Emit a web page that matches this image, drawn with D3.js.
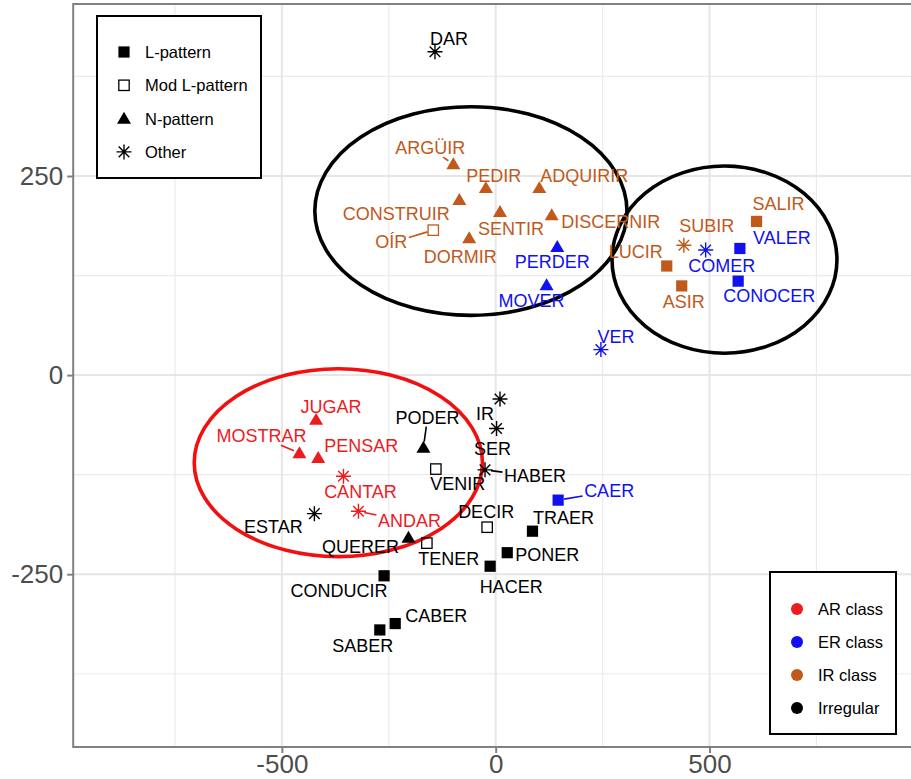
<!DOCTYPE html>
<html>
<head>
<meta charset="utf-8">
<script src="https://cdn.jsdelivr.net/npm/d3@7"></script>
<style>
  html, body { margin: 0; padding: 0; background: #fff; }
  svg { display: block; font-family: "Liberation Sans", Arial, sans-serif; }
</style>
</head>
<body>
<svg id="chart" width="911" height="779"></svg>
<script>
// ---- data ----
const verbs = ["DAR","ARGÜIR","PEDIR","ADQUIRIR","CONSTRUIR","SENTIR","DISCERNIR","DORMIR","OÍR","PERDER","MOVER",
  "SALIR","SUBIR","COMER","VALER","LUCIR","CONOCER","ASIR","VER",
  "JUGAR","MOSTRAR","PENSAR","CANTAR","ANDAR","ESTAR","PODER","VENIR","IR","SER","HABER","CAER",
  "DECIR","TRAER","QUERER","TENER","PONER","HACER","CONDUCIR","CABER","SABER"];
const dim1 = [-142,-99,-23,102,-85,10,131,-62,-146,144,119,
  610,440,491,571,400,567,435,246,
  -420,-459,-415,-356,-321,-424,-169,-140,10,2,-25,146,
  -20,86,-204,-161,27,-13,-261,-235,-271];
const dim2 = [406,265,235,235,220,205,201,172,182,161,113,
  193,163,157,159,137,118,112,32,
  -56,-98,-104,-127,-171,-174,-91,-118,-30,-67,-119,-157,
  -191,-196,-204,-211,-223,-240,-252,-312,-320];
const verbClass = ["Irregular","IR","IR","IR","IR","IR","IR","IR","IR","ER","ER",
  "IR","IR","ER","ER","IR","ER","IR","ER",
  "AR","AR","AR","AR","AR","Irregular","Irregular","Irregular","Irregular","Irregular","Irregular","ER",
  "Irregular","Irregular","Irregular","Irregular","Irregular","Irregular","Irregular","Irregular","Irregular"];
const verbPattern = ["Other","N","N","N","N","N","N","N","ModL","N","N",
  "L","Other","Other","L","L","L","L","Other",
  "N","N","N","Other","Other","Other","N","ModL","Other","Other","Other","L",
  "ModL","L","N","ModL","L","L","L","L","L"];
const patternKeys = ["L","ModL","N","Other"];
const patternLabels = ["L-pattern","Mod L-pattern","N-pattern","Other"];
const classKeys = ["AR","ER","IR","Irregular"];
const classLabels = ["AR class","ER class","IR class","Irregular"];
const xTicks = [-500, 0, 500];
const yTicks = [-250, 0, 250];
// cluster ellipses: centre and radii in data units
const ellCx = [-58, 535, -368];
const ellCy = [206, 145, -110];
const ellRx = [365, 263, 337];
const ellRy = [131, 117.5, 118];

// ---- layout / style ----
const colors = {AR: "#EC1B1F", ER: "#1010F0", IR: "#C0591A", Irregular: "#000000"};
const ellColors = ["#000000", "#000000", "#F20F0F"];
// label offsets in pixels (label centre x, baseline y relative to point) and leader flags
const labelOff = {
  DAR:[14,-7], "ARGÜIR":[-23,-10], PEDIR:[8,-6], ADQUIRIR:[45,-6], CONSTRUIR:[-63,20], SENTIR:[11,23],
  DISCERNIR:[59,13], DORMIR:[-9,25], "OÍR":[-42,18], PERDER:[-5,21], MOVER:[-15,22],
  SALIR:[22,-11], SUBIR:[23,-13], COMER:[16,22], VALER:[42,-4], LUCIR:[-31,-8], CONOCER:[31,21],
  ASIR:[2,22], VER:[15,-7], JUGAR:[15,-7], MOSTRAR:[-38,-11], PENSAR:[43,-6], CANTAR:[17,22],
  ANDAR:[51,16], ESTAR:[-41,19], PODER:[4,-24], VENIR:[22,21], IR:[-15,21], SER:[-4,27],
  HABER:[50,12], CAER:[51,-3], DECIR:[-1,-9], TRAER:[31,-7], QUERER:[-48,15], TENER:[22,22],
  PONER:[40,8], HACER:[21,27], CONDUCIR:[-45,21], CABER:[41,-2], SABER:[-17,22]
};
const leaders = new Set(["ARGÜIR","OÍR","MOSTRAR","ANDAR","PODER","HABER","CAER"]);

const svg = d3.select("#chart");
const W = 911, H = 779;
const panel = {left: 73.2, right: 918.2, top: 4, bottom: 747};

const x = d3.scaleLinear().domain([-988, 988]).range([panel.left, panel.right]);
const y = d3.scaleLinear().domain([-467, 466]).range([panel.bottom, panel.top]);

svg.append("rect").attr("width", W).attr("height", H).attr("fill", "#fff");

// grid
const gridG = svg.append("g");
const minorX = [-750, -250, 250, 750];
const minorY = [-375, -125, 125, 375];
gridG.selectAll(".mx").data(minorX).join("line")
  .attr("x1", d => x(d)).attr("x2", d => x(d)).attr("y1", panel.top).attr("y2", panel.bottom)
  .attr("stroke", "#EBEBEB").attr("stroke-width", 1.2);
gridG.selectAll(".my").data(minorY).join("line")
  .attr("y1", d => y(d)).attr("y2", d => y(d)).attr("x1", panel.left).attr("x2", panel.right)
  .attr("stroke", "#EBEBEB").attr("stroke-width", 1.2);
gridG.selectAll(".Mx").data(xTicks).join("line")
  .attr("x1", d => x(d)).attr("x2", d => x(d)).attr("y1", panel.top).attr("y2", panel.bottom)
  .attr("stroke", "#E6E6E6").attr("stroke-width", 2);
gridG.selectAll(".My").data(yTicks).join("line")
  .attr("y1", d => y(d)).attr("y2", d => y(d)).attr("x1", panel.left).attr("x2", panel.right)
  .attr("stroke", "#E6E6E6").attr("stroke-width", 2);

// panel border
svg.append("rect").attr("x", panel.left).attr("y", panel.top)
  .attr("width", panel.right - panel.left).attr("height", panel.bottom - panel.top)
  .attr("fill", "none").attr("stroke", "#808080").attr("stroke-width", 2);

// axes
const xAxis = svg.append("g").attr("transform", `translate(0,${panel.bottom})`)
  .call(d3.axisBottom(x).tickValues(xTicks).tickSize(6).tickPadding(2).tickFormat(d3.format("d")));
const yAxis = svg.append("g").attr("transform", `translate(${panel.left},0)`)
  .call(d3.axisLeft(y).tickValues(yTicks).tickSize(6).tickPadding(4).tickFormat(d3.format("d")));
[xAxis, yAxis].forEach(g => {
  g.select(".domain").remove();
  g.selectAll(".tick line").attr("stroke", "#808080").attr("stroke-width", 2);
  g.selectAll(".tick text").attr("fill", "#4D4D4D").attr("font-size", 26)
    .attr("font-family", "Liberation Sans, Arial, sans-serif");
});
xAxis.selectAll(".tick text").text(d => d < 0 ? "-" + Math.abs(d) : d);
yAxis.selectAll(".tick text").text(d => d < 0 ? "-" + Math.abs(d) : d);

// ellipses
svg.append("g").selectAll("ellipse").data(ellCx.map((cx, i) => i)).join("ellipse")
  .attr("cx", i => x(ellCx[i])).attr("cy", i => y(ellCy[i]))
  .attr("rx", i => x(ellRx[i]) - x(0)).attr("ry", i => y(0) - y(ellRy[i]))
  .attr("fill", "none").attr("stroke", i => ellColors[i]).attr("stroke-width", 3.6);

// symbol drawing
function drawSymbol(g, pattern, color, s) {
  s = s || 1;
  if (pattern === "L") {
    const a = 5.6 * s;
    g.append("rect").attr("x", -a).attr("y", -a).attr("width", 2 * a).attr("height", 2 * a).attr("fill", color);
  } else if (pattern === "ModL") {
    const a = 5.2 * s;
    g.append("rect").attr("x", -a).attr("y", -a).attr("width", 2 * a).attr("height", 2 * a)
      .attr("fill", "none").attr("stroke", color).attr("stroke-width", 1.3);
  } else if (pattern === "N") {
    const h = 6.8 * s, w = 7 * s;
    g.append("path").attr("d", `M0,${-h}L${w},${h * 0.75}L${-w},${h * 0.75}Z`).attr("fill", color);
  } else {
    const r = 7.5 * s, d = r * Math.SQRT1_2;
    g.append("path").attr("d", `M0,${-r}V${r}M${-r},0H${r}M${-d},${-d}L${d},${d}M${-d},${d}L${d},${-d}`)
      .attr("stroke", color).attr("stroke-width", 1.4).attr("fill", "none");
  }
}

const pts = verbs.map((v, i) => ({name: v, x: x(dim1[i]), y: y(dim2[i]), cls: verbClass[i], pat: verbPattern[i]}));

// labels + leaders (segment from label box edge toward the point, along the centre line)
const labG = svg.append("g").attr("font-size", 18);
pts.forEach(p => {
  const off = labelOff[p.name] || [0, -10];
  const t = labG.append("text").attr("x", p.x + off[0]).attr("y", p.y + off[1])
    .attr("text-anchor", "middle").attr("fill", colors[p.cls]).text(p.name);
  if (leaders.has(p.name)) {
    const bb = t.node().getBBox();
    const top = bb.y + 3, bot = bb.y + bb.height - 2;
    const lcx = bb.x + bb.width / 2, lcy = (top + bot) / 2;
    const hw = bb.width / 2 + 1.5, hh = (bot - top) / 2 + 1;
    const dx = p.x - lcx, dy = p.y - lcy;
    const tx = dx !== 0 ? hw / Math.abs(dx) : Infinity;
    const ty = dy !== 0 ? hh / Math.abs(dy) : Infinity;
    const tt = Math.min(tx, ty);
    if (tt < 1) {
      const sx = lcx + dx * tt, sy = lcy + dy * tt;
      const len = Math.hypot(p.x - sx, p.y - sy);
      if (len > 7) {
        const ex = p.x - (p.x - sx) / len * 6, ey = p.y - (p.y - sy) / len * 6;
        labG.append("line").attr("x1", sx).attr("y1", sy).attr("x2", ex).attr("y2", ey)
          .attr("stroke", colors[p.cls]).attr("stroke-width", 1.6);
      }
    }
  }
});

// points
const ptG = svg.append("g");
pts.forEach(p => {
  const g = ptG.append("g").attr("transform", `translate(${p.x},${p.y})`);
  drawSymbol(g, p.pat, colors[p.cls]);
});

// legend 1 (patterns)
const l1 = svg.append("g");
l1.append("rect").attr("x", 97).attr("y", 16).attr("width", 164).attr("height", 162)
  .attr("fill", "#fff").attr("stroke", "#000").attr("stroke-width", 2);
patternKeys.forEach((k, i) => {
  const cy = 52 + i * 33.3;
  const g = l1.append("g").attr("transform", `translate(124,${cy})`);
  drawSymbol(g, k, "#000", 1);
  l1.append("text").attr("x", 145).attr("y", cy + 6).attr("font-size", 16.5).attr("fill", "#000").text(patternLabels[i]);
});

// legend 2 (classes)
const l2 = svg.append("g");
l2.append("rect").attr("x", 770).attr("y", 572).attr("width", 126).attr("height", 162)
  .attr("fill", "#fff").attr("stroke", "#000").attr("stroke-width", 2);
classKeys.forEach((k, i) => {
  const cy = 609 + i * 33;
  l2.append("circle").attr("cx", 797).attr("cy", cy).attr("r", 6).attr("fill", colors[k]);
  l2.append("text").attr("x", 818).attr("y", cy + 6).attr("font-size", 16.5).attr("fill", "#000").text(classLabels[i]);
});
</script>
</body>
</html>
